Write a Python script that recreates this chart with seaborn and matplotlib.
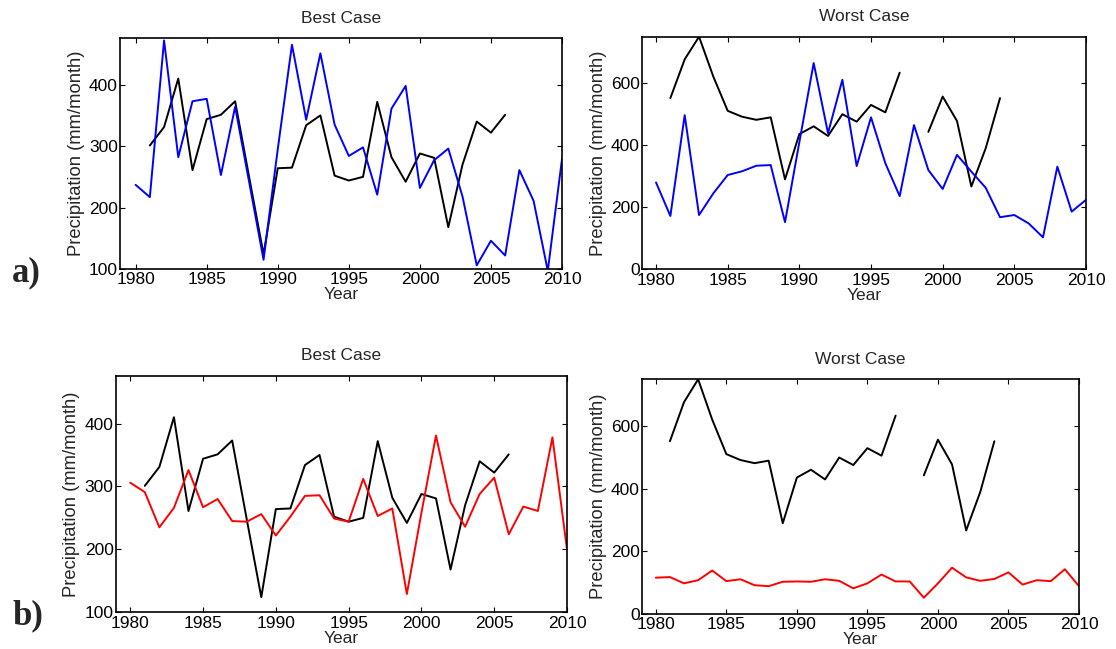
import numpy as np
import pandas as pd
import matplotlib
matplotlib.use("Agg")
import matplotlib.pyplot as plt
import seaborn as sns

nan = np.nan

# Year axis shared by all panels
years = list(range(1980, 2011))

# Observed precipitation (mm/month); gaps are missing years
obs_best = [nan, 301, 331, 410, 261, 344, 351, 373, 248, 124, 264, 265, 334, 350,
            252, 244, 250, 372, 282, 242, 288, 281, 168, 270, 340, 322, 351,
            nan, nan, nan, nan]
obs_worst = [nan, 552, 677, 750, 621, 511, 492, 482, 490, 290, 436, 461, 430, 500,
             476, 530, 506, 634, nan, 443, 557, 478, 267, 390, 552,
             nan, nan, nan, nan, nan, nan]

# Raw satellite estimates (blue)
raw_best = [237, 217, 472, 282, 373, 377, 253, 364, 240, 115, 295, 465, 343, 451,
            335, 284, 298, 221, 361, 398, 232, 277, 296, 218, 106, 146, 122, 261,
            211, 97, 279]
raw_worst = [280, 172, 497, 175, 245, 304, 316, 334, 336, 152, 410, 665, 439, 611,
             333, 490, 342, 236, 465, 320, 259, 369, 315, 263, 168, 175, 148, 103,
             331, 186, 224]

# Bias-corrected estimates (red)
cor_best = [306, 291, 235, 266, 326, 267, 280, 245, 244, 256, 222, 252, 285, 286,
            249, 244, 312, 253, 265, 129, 258, 381, 275, 236, 288, 314, 224, 268,
            261, 378, 200]
cor_worst = [116, 118, 98, 108, 139, 105, 111, 92, 89, 103, 104, 103, 111, 106,
             82, 98, 126, 104, 104, 52, 98, 148, 117, 106, 112, 133, 94, 108,
             105, 143, 89]

titles = ["Best Case", "Worst Case"]
ylabel = "Precipitation (mm/month)"
xlabel = "Year"
year_ticks = [1980, 1985, 1990, 1995, 2000, 2005, 2010]
ticks_best = [100, 200, 300, 400]
ticks_worst = [0, 200, 400, 600]

sns.set_style("ticks", {"xtick.direction": "in", "ytick.direction": "in",
                        "axes.edgecolor": "black"})
plt.rcParams["font.family"] = ["Liberation Sans", "DejaVu Sans"]

W, H = 1116, 649
fig = plt.figure(figsize=(W / 100, H / 100), dpi=100)


def add_ax(left, top, right, bottom):
    return fig.add_axes([left / W, 1 - bottom / H, (right - left) / W, (bottom - top) / H])


def segments(vals):
    """Long table with a segment id that restarts after each missing year."""
    rows, seg = [], 0
    prev_nan = True
    for y, v in zip(years, vals):
        if np.isnan(v):
            prev_nan = True
            continue
        if prev_nan:
            seg += 1
            prev_nan = False
        rows.append((y, v, seg))
    return pd.DataFrame(rows, columns=["year", "value", "seg"])


def draw(ax, vals, color):
    df = segments(vals)
    sns.lineplot(data=df, x="year", y="value", units="seg", estimator=None,
                 color=color, lw=1.4, ax=ax, sort=False, legend=False)


def style(ax, title, yticks, ylim, xlim):
    ax.set_xlim(*xlim)
    ax.set_ylim(*ylim)
    ax.set_xticks(year_ticks)
    ax.set_yticks(yticks)
    ax.tick_params(axis="both", direction="in", length=3.5, width=0.8,
                   top=True, right=True, labelsize=12.5, colors="black")
    ax.tick_params(axis="x", pad=2.5)
    ax.tick_params(axis="y", pad=1.5)
    for s in ax.spines.values():
        s.set_linewidth(1.2)
        s.set_color("black")
    ax.set_title(title, fontsize=12.5, pad=11)
    ax.set_ylabel(ylabel, fontsize=13.2, labelpad=3)
    ax.set_xlabel(xlabel, fontsize=12.5, labelpad=0)


ax1 = add_ax(120, 38, 562, 269)
draw(ax1, obs_best, "black")
draw(ax1, raw_best, "#0000ff")
style(ax1, titles[0], ticks_best, (100, 476), (1978.9, 2010))

ax2 = add_ax(641.7, 36.7, 1086, 269.3)
draw(ax2, obs_worst, "black")
draw(ax2, raw_worst, "#0000ff")
style(ax2, titles[1], ticks_worst, (0, 750), (1979, 2010))

ax3 = add_ax(115.7, 375.7, 567, 612.3)
draw(ax3, obs_best, "black")
draw(ax3, cor_best, "#ff0000")
style(ax3, titles[0], ticks_best, (100, 476), (1979, 2010))

ax4 = add_ax(641.7, 379.3, 1079, 614)
draw(ax4, obs_worst, "black")
draw(ax4, cor_worst, "#ff0000")
style(ax4, titles[1], ticks_worst, (0, 750), (1979, 2010))

for lab, base in (("a)", 281), ("b)", 624)):
    fig.text(12 / W, 1 - base / H, lab, family=["Liberation Serif", "DejaVu Serif"],
             fontweight="bold", fontsize=25, ha="left", va="baseline")

fig.savefig("out.png", dpi=100, facecolor="white")
